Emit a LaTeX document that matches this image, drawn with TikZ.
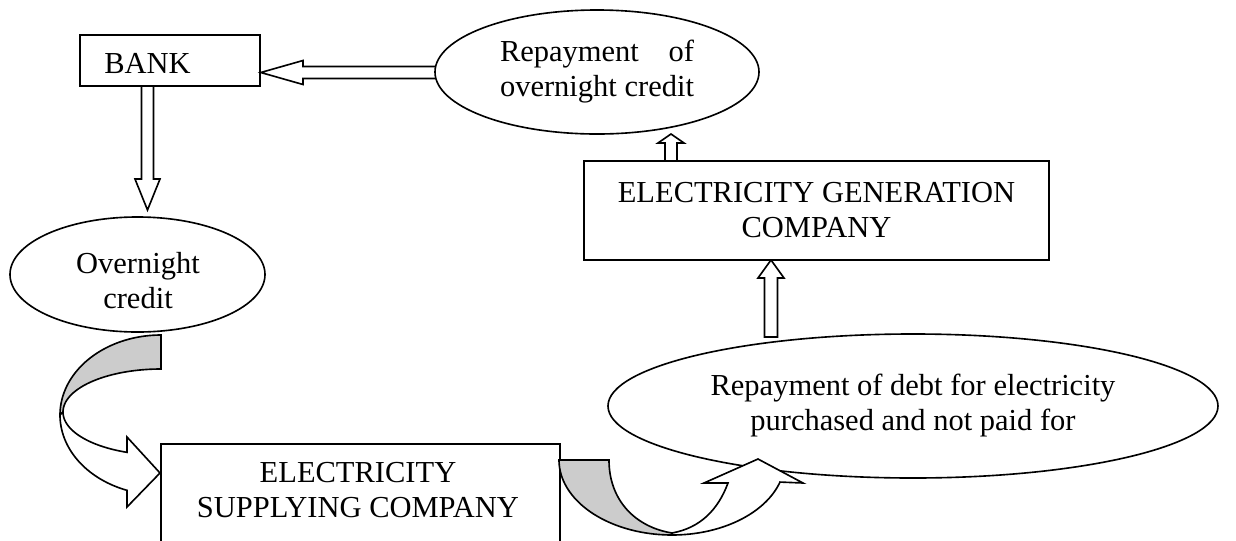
\documentclass[tikz,border=0pt]{standalone}
\usepackage{fontspec}
\setmainfont{Liberation Serif}
\usetikzlibrary{shapes.geometric}
\newcommand\justline[2]{\setbox0\hbox{#2}\hbox to\wd0{#1}}
\begin{document}
\begin{tikzpicture}[x=0.4pt,y=-0.4pt, line width=0.65pt,
  txt/.style={font=\fontsize{12.2}{14}\selectfont, inner sep=0pt, align=center},
  boxnode/.style={draw, rectangle, fill=white, inner sep=0pt},
  ellnode/.style={draw, ellipse, fill=white, inner sep=0pt},
  blockarrow/.style={draw, fill=white, line join=miter},
  backface/.style={draw, fill=gray!40, line join=miter}]
\useasboundingbox (0,0) rectangle (1236,541);
\clip (0,0) rectangle (1236,541);

% ---- shapes ----
\node[boxnode, minimum width=72pt, minimum height=20.4pt] (bank) at (170,60.5) {};
\node[txt] (bankt) at (147.5,63) {BANK};

% straight block arrows (drawn before the shapes they touch)
\filldraw[blockarrow] (bank.east |- 0,72.5) -- (303,60.5) -- (303,66.5) -- (437,66.5) -- (437,78.5) -- (303,78.5) -- (303,84.5) -- cycle;
\filldraw[blockarrow] (141.5,86) -- (153.5,86) -- (153.5,179) -- (160,179) -- (147.5,210) -- (135,179) -- (141.5,179) -- cycle;
\filldraw[blockarrow] (665,163) -- (665,143) -- (658,143) -- (671,134) -- (684,143) -- (677,143) -- (677,163) -- cycle;
\filldraw[blockarrow] (764.5,337) -- (764.5,278) -- (758,278) -- (771,260) -- (784,278) -- (777.5,278) -- (777.5,337) -- cycle;

\node[ellnode, minimum width=129.6pt, minimum height=49.6pt] (ronc) at (597,72)
  {\fontsize{12.2}{14}\selectfont\begin{tabular}{@{}c@{}}\justline{Repayment\hfill of}{overnight credit}\\overnight credit\end{tabular}};

\node[boxnode, minimum width=186pt, minimum height=39.6pt, txt] (egc) at (816.5,210.5)
  {ELECTRICITY GENERATION\\COMPANY};

\node[ellnode, minimum width=244pt, minimum height=57.6pt, txt] (debt) at (913,406)
  {Repayment of debt for electricity\\purchased and not paid for};

\node[ellnode, minimum width=102pt, minimum height=46pt] (onc) at (137.5,274.5) {};
\node[txt] (onct) at (138,281) {Overnight\\credit};

\node[boxnode, anchor=north west, minimum width=159.6pt, minimum height=52pt] (esc) at (160,443) {};
\node[txt] (esct) at (358,490) {ELECTRICITY\\SUPPLYING COMPANY};

% ---- curved arrow: overnight credit -> supplying company ----
\filldraw[backface]
  plot[domain=270:180, samples=40, variable=\t] ({161+101*cos(\t)},{415+80*sin(\t)})
  -- plot[domain=180:270, samples=40, variable=\t] ({161+98*cos(\t)},{412+43*sin(\t)})
  -- cycle;
\filldraw[blockarrow]
  plot[domain=180:109.67, samples=40, variable=\t] ({161+101*cos(\t)},{415+80*sin(\t)})
  -- (127,507) -- (esc.west |- 0,473) -- (127,437)
  -- plot[domain=110.3:180, samples=40, variable=\t] ({161+98*cos(\t)},{412+43*sin(\t)})
  -- cycle;

% ---- curved arrow: supplying company -> repayment of debt ----
\filldraw[backface]
  (esc.east |- 0,460) -- (609,460) .. controls (609,500) and (635,527) .. (672,533)
  -- plot[domain=90:180, samples=40, variable=\t] ({672+113*cos(\t)},{460+75*sin(\t)})
  -- cycle;
\filldraw[blockarrow]
  plot[domain=90:17.1, samples=40, variable=\t] ({672+113*cos(\t)},{460+75*sin(\t)})
  -- (803,483) -- (758,459) -- (704,483) -- (728,483)
  .. controls (718,510) and (700,528) .. (672,533) -- cycle;
\end{tikzpicture}
\end{document}
